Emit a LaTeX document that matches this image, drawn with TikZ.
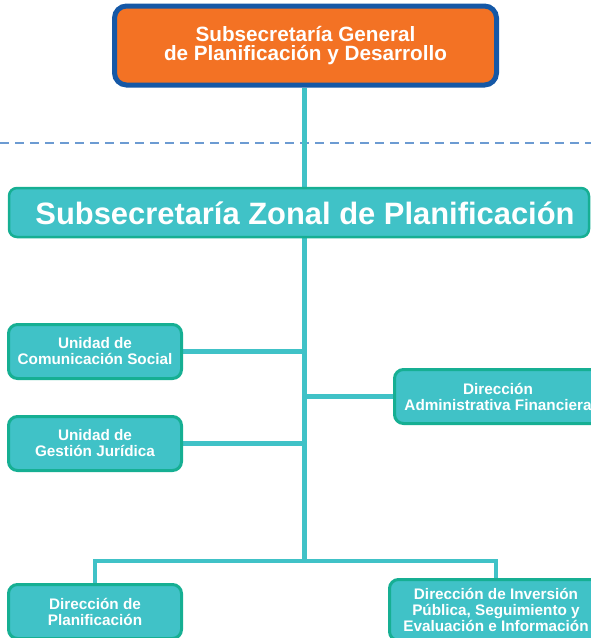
\documentclass[tikz,border=0pt]{standalone}
\usepackage{fontspec}
\setmainfont{Liberation Sans}
\usetikzlibrary{backgrounds}
\definecolor{orangefill}{HTML}{F37224}
\definecolor{blueborder}{HTML}{1558A6}
\definecolor{tealfill}{HTML}{40C2C7}
\definecolor{tealborder}{HTML}{16AF93}
\definecolor{connteal}{HTML}{40C2C7}
\definecolor{dashblue}{HTML}{6C9BD2}
\tikzset{
  topbox/.style={draw=blueborder, line width=5pt, fill=orangefill, rounded corners=12pt,
    minimum width=382pt, minimum height=79pt, inner sep=0pt, text=white, align=center,
    font=\bfseries\fontsize{20.7}{19}\selectfont},
  zonalbox/.style={draw=tealborder, line width=2.5pt, fill=tealfill, rounded corners=8pt,
    minimum width=580pt, minimum height=49pt, inner sep=0pt},
  zonaltext/.style={text=white, inner sep=0pt, font=\bfseries\fontsize{30.9}{34}\selectfont},
  unitbox/.style={draw=tealborder, line width=3pt, fill=tealfill, rounded corners=9pt,
    minimum height=54pt, inner sep=0pt, text=white, align=center,
    font=\bfseries\fontsize{15.3}{16}\selectfont},
  conn/.style={draw=connteal, line width=4.5pt},
  sep/.style={draw=dashblue, line width=2pt, dash pattern=on 9pt off 6pt}
}
\begin{document}
\begin{tikzpicture}[x=1pt,y=-1pt]
\useasboundingbox (0,0) rectangle (591,638);
\node[topbox] (top) at (305.5,45.5) {Subsecretaría General\\de Planificación y Desarrollo};
\node[zonalbox] (zonal) at (299,212.5) {};
\node[zonaltext] (zonallabel) at (305,213.5) {Subsecretaría Zonal de Planificación};
\node[unitbox, minimum width=173pt] (ucs) at (95,351.5) {Unidad de\\Comunicación Social};
\node[unitbox, minimum width=173pt] (ugj) at (95,443.5) {Unidad de\\Gestión Jurídica};
\node[unitbox, minimum width=207pt] (daf) at (498,396.5) {Dirección\\Administrativa Financiera};
\node[unitbox, minimum width=173pt] (dp) at (95,611.5) {Dirección de\\Planificación};
\node[unitbox, minimum width=213pt, minimum height=61pt] (dip) at (496,610) {Dirección de Inversión\\Pública, Seguimiento y\\Evaluación e Información};
\coordinate (j) at (304.5,561);
\coordinate (sepl) at (0,143);
\coordinate (sepr) at (591,143);
\begin{scope}[on background layer]
  \draw[sep] (sepl) -- (sepr);
  \draw[conn] (top.south -| j) -- (j);
  \draw[conn] (ucs.east) -- (ucs.east -| j);
  \draw[conn] (ugj.east) -- (ugj.east -| j);
  \draw[conn] (daf.west) -- (daf.west -| j);
  \draw[conn] (dp.north) |- (j) -| (dip.north);
\end{scope}
\end{tikzpicture}
\end{document}
